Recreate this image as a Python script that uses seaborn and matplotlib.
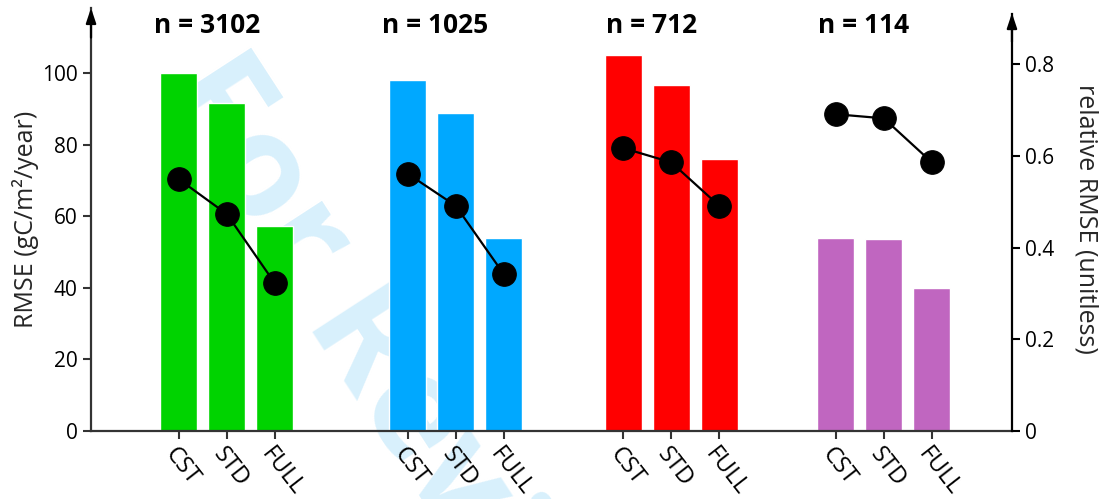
import numpy as np
import pandas as pd
import matplotlib
matplotlib.use("Agg")
import matplotlib.pyplot as plt
import seaborn as sns

# ---- data -------------------------------------------------------------
groups = ["g1", "g2", "g3", "g4"]
group_n = ["n = 3102", "n = 1025", "n = 712", "n = 114"]
models = ["CST", "STD", "FULL"]
group_colors = ["#00d300", "#00a8ff", "#ff0000", "#c066c0"]

rmse_g1 = [100.0, 91.5, 57.1]
rmse_g2 = [98.0, 88.7, 54.0]
rmse_g3 = [105.0, 96.6, 76.0]
rmse_g4 = [54.0, 53.6, 39.8]

rel_g1 = [0.549, 0.473, 0.322]
rel_g2 = [0.561, 0.491, 0.342]
rel_g3 = [0.617, 0.586, 0.491]
rel_g4 = [0.691, 0.682, 0.586]

left_ticks = [0, 20, 40, 60, 80, 100]
right_ticks = [0, 0.2, 0.4, 0.6, 0.8]
right_tick_labels = ["0", "0.2", "0.4", "0.6", "0.8"]

# ---- layout -------------------------------------------------------------
group_centers = [2.83, 7.60, 12.09, 16.52]   # centre (STD) slot of each group
x_span = 19.19

rmse_all = [rmse_g1, rmse_g2, rmse_g3, rmse_g4]
rel_all = [rel_g1, rel_g2, rel_g3, rel_g4]

rows = []
for g, c, rm, rl in zip(groups, group_centers, rmse_all, rel_all):
    for k, m in enumerate(models):
        rows.append({"group": g, "model": m, "pos": c + (k - 1),
                     "rmse": rm[k], "rel": rl[k]})
df = pd.DataFrame(rows)

sns.set_style("white")
font = "Open Sans"
plt.rcParams["font.family"] = [font, "DejaVu Sans"]

fig = plt.figure(figsize=(11.02, 4.99), dpi=100)
ax = fig.add_axes([0.0826, 0.1369, 0.8357, 0.8471])
ax.patch.set_visible(False)

# faint diagonal stamp behind the bars
ax.text(0.142, 0.815, "For Review", transform=fig.transFigure,
        rotation=-57, rotation_mode="anchor", ha="left", va="baseline",
        fontsize=104, fontweight="bold", color="#d8f0fc", zorder=0,
        family=font)

sns.barplot(data=df, x="pos", y="rmse", hue="group", palette=group_colors,
            native_scale=True, dodge=False, width=0.77, legend=False,
            saturation=1, ax=ax, zorder=2)

ax.set_xlim(0, x_span)
ax.set_ylim(0, 118.2)
ax.set_xticks(df["pos"])
ax.set_xticklabels(df["model"], rotation=-52, ha="left", va="top",
                   rotation_mode="anchor", fontsize=17)
ax.set_yticks(left_ticks)
ax.set_yticklabels([str(t) for t in left_ticks], fontsize=15)
ax.set_xlabel("")
ax.set_ylabel("RMSE (gC/m²/year)", fontsize=18, labelpad=2)

ax2 = ax.twinx()
sns.lineplot(data=df, x="pos", y="rel", units="group", estimator=None,
             color="black", marker="o", markersize=17, linewidth=1.6,
             markeredgecolor="black", sort=False, ax=ax2, zorder=5)
ax2.set_ylim(0, 0.923)
ax2.set_xlim(0, x_span)
ax2.set_yticks(right_ticks)
ax2.set_yticklabels(right_tick_labels, fontsize=15)
ax2.set_xlabel("")
ax2.set_ylabel("relative RMSE (unitless)", fontsize=18, rotation=270,
               labelpad=32)

spine_col = "#333333"
for a in (ax, ax2):
    for s in a.spines.values():
        s.set_visible(False)
ax.spines["left"].set_visible(True)
ax.spines["bottom"].set_visible(True)
ax2.spines["right"].set_visible(True)
ax.spines["left"].set_color(spine_col)
ax.spines["bottom"].set_color(spine_col)
ax2.spines["right"].set_color("black")
for s in (ax.spines["left"], ax.spines["bottom"], ax2.spines["right"]):
    s.set_linewidth(1.6)
ax2.spines["right"].set_bounds(0, 0.91)

ax.tick_params(axis="both", direction="out", length=6, width=1.5,
               colors=spine_col, labelcolor="black", bottom=True, left=True)
ax.tick_params(axis="x", pad=3)
ax2.tick_params(axis="y", direction="out", length=6, width=1.5,
                colors="black", right=True)

# arrow heads on the vertical axes
ax.annotate("", xy=(0, 1.0), xytext=(0, 0.93), xycoords="axes fraction",
            arrowprops=dict(arrowstyle="-|>,head_length=0.9,head_width=0.3",
                            color="black", lw=1.6, shrinkA=0, shrinkB=0))
ax.annotate("", xy=(1, 0.988), xytext=(1, 0.92), xycoords="axes fraction",
            arrowprops=dict(arrowstyle="-|>,head_length=0.9,head_width=0.3",
                            color="black", lw=1.6, shrinkA=0, shrinkB=0))

# sample-size labels above each group
for c, label in zip(group_centers, group_n):
    ax.text(c - 0.42, 113.4, label, ha="center", va="center",
            fontsize=19, fontweight="bold", color="black")

fig.savefig("out.png", dpi=100)
